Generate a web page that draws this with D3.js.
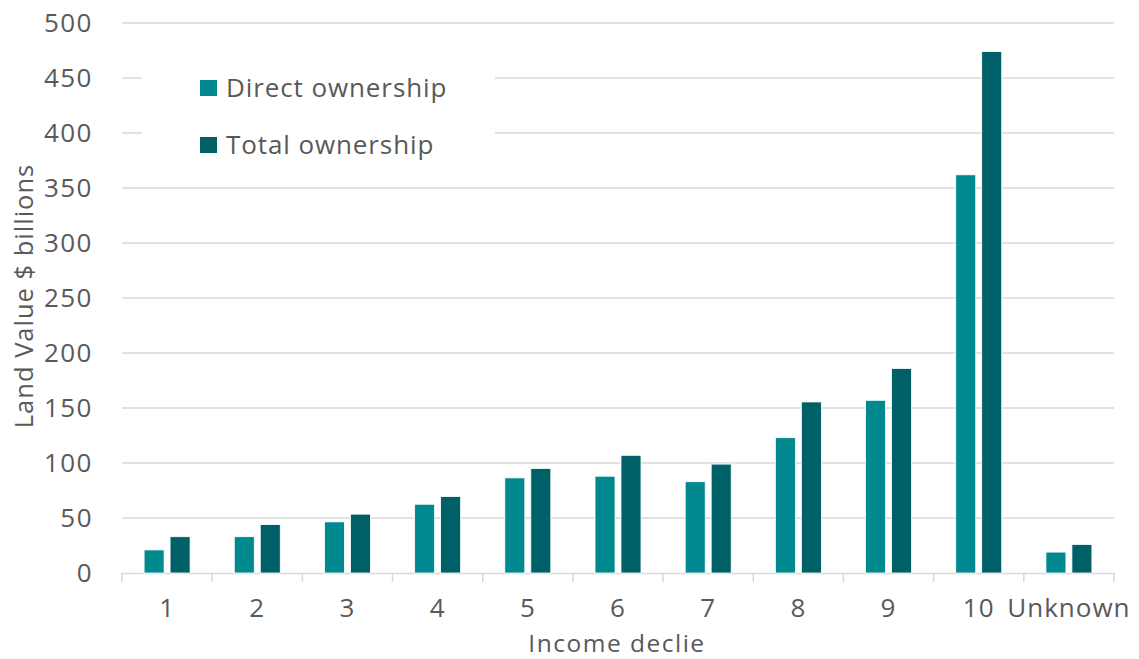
<!DOCTYPE html>
<html>
<head>
<meta charset="utf-8">
<script src="https://cdn.jsdelivr.net/npm/d3@7"></script>
<style>
  body { margin: 0; background: #fff; }
  text { font-family: "Open Sans", "Noto Sans", sans-serif; fill: #595959; }
</style>
</head>
<body>
<div id="chart"></div>
<script>
const categories = ['1', '2', '3', '4', '5', '6', '7', '8', '9', '10', 'Unknown'];
const directValues = [21, 33, 46.5, 62.5, 86.5, 88, 83, 123, 157, 362, 19];
const totalValues = [33, 44, 53.5, 69.5, 95, 107, 99, 155.5, 186, 474, 26];
const yTicks = [0, 50, 100, 150, 200, 250, 300, 350, 400, 450, 500];
const seriesNames = ['Direct ownership', 'Total ownership'];
const seriesColours = ['#008a90', '#006068'];

const width = 1139;
const height = 659;
const plotLeft = 122, plotRight = 1114, plotTop = 23, plotBottom = 573;

const svg = d3.select('#chart')
     .append('svg')
          .attr('width', width)
          .attr('height', height);

const x = d3.scaleBand()
     .domain(categories)
     .range([plotLeft, plotRight]);

const y = d3.scaleLinear()
     .domain([0, 500])
     .range([plotBottom, plotTop]);

// gridlines
svg.append('g')
     .selectAll('line')
     .data(yTicks.filter(t => t > 0))
     .enter()
          .append('line')
               .attr('x1', plotLeft)
               .attr('x2', plotRight)
               .attr('y1', d => y(d))
               .attr('y2', d => y(d))
               .attr('stroke', '#d9d9d9')
               .attr('stroke-width', 1.3);

// y tick labels
svg.append('g')
     .selectAll('text')
     .data(yTicks)
     .enter()
          .append('text')
               .attr('x', 93)
               .attr('y', d => y(d))
               .attr('dy', '0.36em')
               .attr('text-anchor', 'end')
               .style('font-size', '26px')
               .style('letter-spacing', '1.5px')
               .text(d => d);

// x axis line + ticks at band edges
const xAxis = svg.append('g')
     .attr('transform', `translate(0, ${plotBottom})`)
     .call(d3.axisBottom(x).tickSize(0).tickFormat(''));
xAxis.select('.domain').attr('stroke', '#d9d9d9').attr('stroke-width', 1.5);

const edges = categories.map(c => x(c)).concat([plotRight]);
svg.append('g')
     .selectAll('line')
     .data(edges)
     .enter()
          .append('line')
               .attr('x1', d => d)
               .attr('x2', d => d)
               .attr('y1', plotBottom)
               .attr('y2', plotBottom + 9)
               .attr('stroke', '#d9d9d9')
               .attr('stroke-width', 1.5);

// x tick labels
svg.append('g')
     .selectAll('text')
     .data(categories)
     .enter()
          .append('text')
               .attr('x', d => x(d) + x.bandwidth() / 2)
               .attr('y', 617)
               .attr('text-anchor', 'middle')
               .style('font-size', '26px')
               .style('letter-spacing', '1px')
               .text(d => d);

// bars
const inner = d3.scaleBand()
     .domain([0, 1])
     .range([0, x.bandwidth()])
     .paddingInner(0.23)
     .paddingOuter(0.85);

const series = [directValues, totalValues];
series.forEach((vals, si) => {
     svg.append('g')
          .selectAll('rect')
          .data(categories)
          .enter()
               .append('rect')
                    .attr('x', (d) => x(d) + inner(si))
                    .attr('y', (d, i) => y(vals[i]))
                    .attr('width', inner.bandwidth())
                    .attr('height', (d, i) => plotBottom - y(vals[i]))
                    .attr('fill', seriesColours[si])
                    .attr('stroke', '#ffffff')
                    .attr('stroke-width', 0.8);
});

// legend (white box over gridlines)
const legend = svg.append('g');
legend.append('rect')
     .attr('x', 142)
     .attr('y', 40)
     .attr('width', 353)
     .attr('height', 130)
     .attr('fill', '#ffffff');

seriesNames.forEach((name, i) => {
     legend.append('rect')
          .attr('x', 200)
          .attr('y', 80 + i * 57)
          .attr('width', 17)
          .attr('height', 16)
          .attr('fill', seriesColours[i]);
     legend.append('text')
          .attr('x', 226)
          .attr('y', 97 + i * 57)
          .style('font-size', '26px')
          .style('letter-spacing', '0.9px')
          .text(name);
});

// axis titles
svg.append('text')
     .attr('transform', 'translate(33, 296) rotate(-90)')
     .attr('text-anchor', 'middle')
     .style('font-size', '25.5px')
     .style('letter-spacing', '1px')
     .text('Land Value $ billions');

svg.append('text')
     .attr('x', 617)
     .attr('y', 652)
     .attr('text-anchor', 'middle')
     .style('font-size', '24.5px')
     .style('letter-spacing', '1.5px')
     .text('Income declie');
</script>
</body>
</html>
